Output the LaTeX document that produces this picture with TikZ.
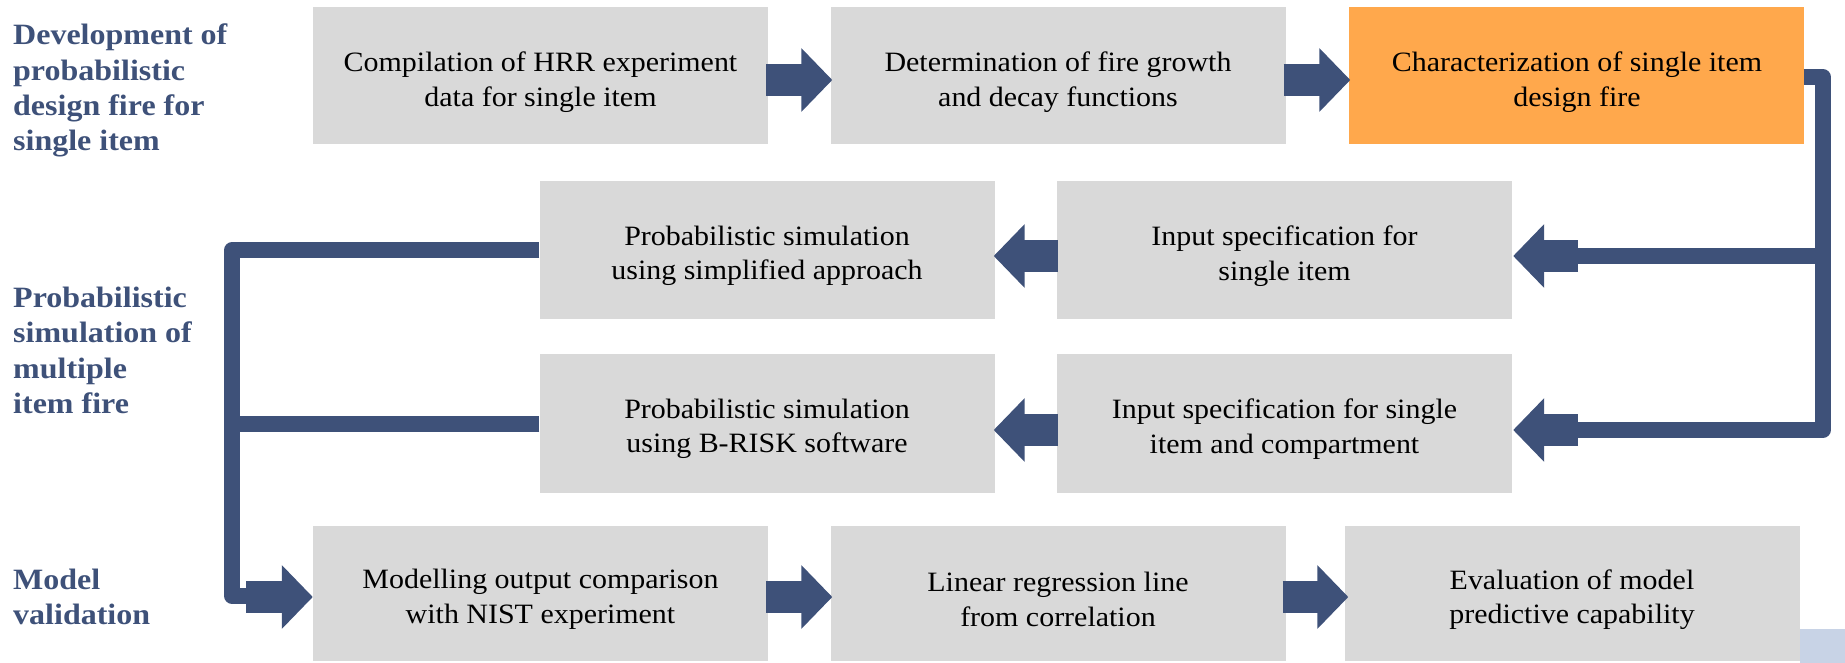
\documentclass[tikz,border=0pt]{standalone}
\usepackage{fontspec}
\setmainfont{Liberation Serif}[FakeStretch=1.07, BoldFeatures={FakeStretch=1.085}]
\usetikzlibrary{arrows.meta,calc}
\definecolor{navy}{HTML}{3E5179}
\definecolor{boxgray}{HTML}{D9D9D9}
\definecolor{hilite}{HTML}{FFA84C}
\definecolor{paleblue}{HTML}{C8D3E6}
\begin{document}
\begin{tikzpicture}[x=1pt,y=-1pt,
  box/.style={fill=boxgray, minimum width=455pt, minimum height=137pt, inner sep=0pt},
  btxt/.style={align=center, text=black, inner sep=0pt,
    font=\fontsize{28}{34.5}\selectfont},
  lab/.style={text=navy, align=left, anchor=north west, inner sep=0pt,
    font=\fontsize{29.5}{35.3}\selectfont\bfseries},
  blk/.style={draw=navy, line width=32pt, -{Triangle[length=31pt,width=62pt]}},
  conn/.style={draw=navy, line width=15.5pt, line join=round}]
\useasboundingbox (0,0) rectangle (1845,663);

% phase labels
\node[lab] (l1) at (13,24) {Development of\\probabilistic\\design fire for\\single item};
\node[lab] (l2) at (13,287) {Probabilistic\\simulation of\\multiple\\item fire};
\node[lab] (l3) at (13,569) {Model\\validation};

% process boxes
\node[box] (b1) at (540.5,76) {};
\node[box] (b2) at (1058,76) {};
\node[box, fill=hilite] (b3) at (1576,76) {};
\node[box] (b4) at (767,250) {};
\node[box] (b5) at (1284.5,250) {};
\node[box, minimum height=139pt] (b6) at (767,423) {};
\node[box, minimum height=139pt] (b7) at (1284.5,423) {};
\node[box, minimum height=135pt] (b8) at (540.5,593.5) {};
\node[box, minimum height=135pt] (b9) at (1058,593.5) {};
\node[box, minimum height=135pt] (b10) at (1572,593.5) {};

% box captions
\node[btxt] (t1) at ($(b1)+(0,6)$) {Compilation of HRR experiment\\data for single item};
\node[btxt] (t2) at ($(b2)+(0,6)$) {Determination of fire growth\\and decay functions};
\node[btxt] (t3) at ($(b3)+(1,6)$) {Characterization of single item\\design fire};
\node[btxt] (t4) at ($(b4)+(0,6)$) {Probabilistic simulation\\using simplified approach};
\node[btxt] (t5) at ($(b5)+(0,6)$) {Input specification for\\single item};
\node[btxt] (t6) at ($(b6)+(0,6)$) {Probabilistic simulation\\using B-RISK software};
\node[btxt] (t7) at ($(b7)+(0,6)$) {Input specification for single\\item and compartment};
\node[btxt] (t8) at ($(b8)+(0,6)$) {Modelling output comparison\\with NIST experiment};
\node[btxt] (t9) at ($(b9)+(0,6)$) {Linear regression line\\from correlation};
\node[btxt] (t10) at ($(b10)+(0,6)$) {Evaluation of model\\predictive capability};

\fill[paleblue] (1800,629) rectangle (1845,663);

% flow along rows
\draw[blk] ($(b1.east)+(-2,4)$) -- ($(b2.west)+(2,4)$);
\draw[blk] ($(b2.east)+(-2,4)$) -- ($(b3.west)+(2,4)$);
\draw[blk] ($(b5.west)+(1,6)$) -- ($(b4.east)+(-1,6)$);
\draw[blk] ($(b7.west)+(1,7)$) -- ($(b6.east)+(-1,7)$);
\draw[blk] ($(b8.east)+(-2,3.5)$) -- ($(b9.west)+(2,3.5)$);
\draw[blk] ($(b9.east)+(-3,3.5)$) -- ($(b10.west)+(4,3.5)$);

% right bus: design fire feeds both input specifications
\coordinate (rbus) at (1823,430);
\coordinate (r2) at (1578,256);
\coordinate (r3) at (1578,430);
\draw[conn] ($(b3.east)+(0,1)$) -| (rbus) -- ($(r3)+(-2,0)$);
\draw[conn] (rbus |- r2) -- ($(r2)+(-2,0)$);
\draw[blk] (r2) -- ($(b5.east)+(1,6)$);
\draw[blk] (r3) -- ($(b7.east)+(1,7)$);

% left bus: both simulations feed validation
\coordinate (lbus) at (232,596);
\coordinate (l4) at (246,597);
\draw[conn] (b4.west) -| (lbus) -- ($(l4)+(4,-1)$);
\draw[conn] ($(b6.west)+(0,1)$) -- ($(b6.west -| lbus)+(0,1)$);
\draw[blk] (l4) -- ($(b8.west)+(0,3.5)$);
\end{tikzpicture}
\end{document}
